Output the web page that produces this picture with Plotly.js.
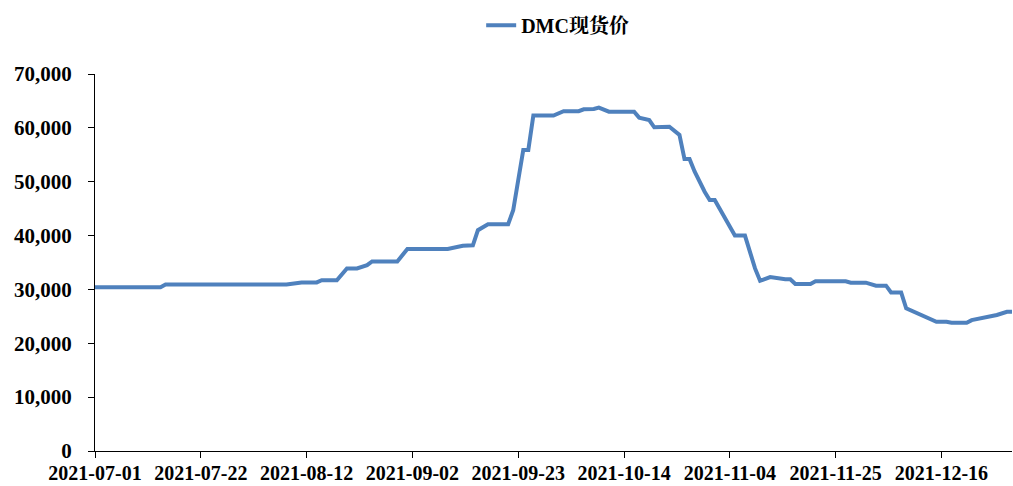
<!DOCTYPE html>
<html>
<head>
<meta charset="utf-8">
<script src="https://cdn.plot.ly/plotly-3.0.1.min.js"></script>
<style>html,body{margin:0;padding:0;background:#fff;}#chart{width:1013px;height:486px;}</style>
</head>
<body>
<div id="chart"></div>
<script>
const seriesName = "DMC现货价";
const dates = [
  "2021-07-01","2021-07-14","2021-07-15","2021-08-08","2021-08-11","2021-08-14","2021-08-15","2021-08-18",
  "2021-08-20","2021-08-22","2021-08-24","2021-08-25","2021-08-30","2021-09-01","2021-09-09","2021-09-12",
  "2021-09-14","2021-09-15","2021-09-17","2021-09-21","2021-09-22","2021-09-24","2021-09-25","2021-09-26",
  "2021-09-30","2021-10-02","2021-10-05","2021-10-06","2021-10-08","2021-10-09","2021-10-11","2021-10-16",
  "2021-10-17","2021-10-19","2021-10-20","2021-10-23","2021-10-25","2021-10-26","2021-10-27","2021-10-28",
  "2021-10-30","2021-10-31","2021-11-01","2021-11-03","2021-11-05","2021-11-07","2021-11-09","2021-11-10",
  "2021-11-12","2021-11-15","2021-11-16","2021-11-17","2021-11-20","2021-11-21","2021-11-27","2021-11-28",
  "2021-12-01","2021-12-03","2021-12-05","2021-12-06","2021-12-08","2021-12-09","2021-12-12","2021-12-14",
  "2021-12-15","2021-12-17","2021-12-18","2021-12-21","2021-12-22","2021-12-27","2021-12-29","2021-12-30"
];
const prices = [
  30400,30400,30900,30900,31300,31300,31700,31700,
  33900,33900,34500,35200,35200,37500,37500,38100,
  38200,41000,42100,42100,44700,55900,55900,62300,
  62300,63100,63100,63450,63500,63750,63000,63000,
  61900,61450,60100,60200,58700,54200,54200,51900,
  48150,46600,46600,43200,40000,40000,33900,31600,
  32300,31900,31900,31000,31000,31500,31500,31250,
  31250,30700,30700,29450,29450,26500,25250,24300,
  24000,24000,23800,23800,24300,25250,25850,25850
];
const xRange = ["2021-07-01","2021-12-30"];
const yRange = [0, 70000];

const fontFamily = '"Liberation Serif","Times New Roman","Noto Serif CJK SC","Noto Sans CJK SC",serif';
const fs = 21;

Plotly.newPlot('chart', [{
  type: 'scatter',
  mode: 'lines',
  name: seriesName,
  x: dates,
  y: prices,
  line: {color: '#4F81BD', width: 4}
}], {
  width: 1013, height: 486,
  margin: {l: 95, r: 1, t: 74, b: 35},
  paper_bgcolor: '#fff', plot_bgcolor: '#fff',
  font: {family: fontFamily, size: fs, color: '#000'},
  showlegend: true,
  legend: {
    orientation: 'h', xref: 'container', yref: 'container',
    x: 0.475, xanchor: 'left', y: 0.948, yanchor: 'middle',
    font: {family: fontFamily, size: 20, color: '#000', weight: 'bold'},
    bgcolor: 'rgba(0,0,0,0)'
  },
  xaxis: {
    type: 'date', range: xRange,
    tick0: '2021-07-01', dtick: 21 * 86400000, tickformat: '%Y-%m-%d',
    showgrid: false, zeroline: false,
    showline: true, linecolor: '#000', linewidth: 1,
    ticks: 'outside', ticklen: 6, tickcolor: '#000',
    tickfont: {family: fontFamily, size: 20, color: '#000', weight: 'bold'},
    ticklabelstandoff: -2,
    fixedrange: true
  },
  yaxis: {
    range: yRange, dtick: 10000, tickformat: ',d',
    showgrid: false, zeroline: false,
    showline: true, linecolor: '#000', linewidth: 1,
    ticks: 'outside', ticklen: 6, tickcolor: '#000',
    tickfont: {family: fontFamily, size: fs, color: '#000', weight: 'bold'},
    ticklabelstandoff: 12,
    fixedrange: true
  }
}, {displayModeBar: false, staticPlot: true});
</script>
</body>
</html>
